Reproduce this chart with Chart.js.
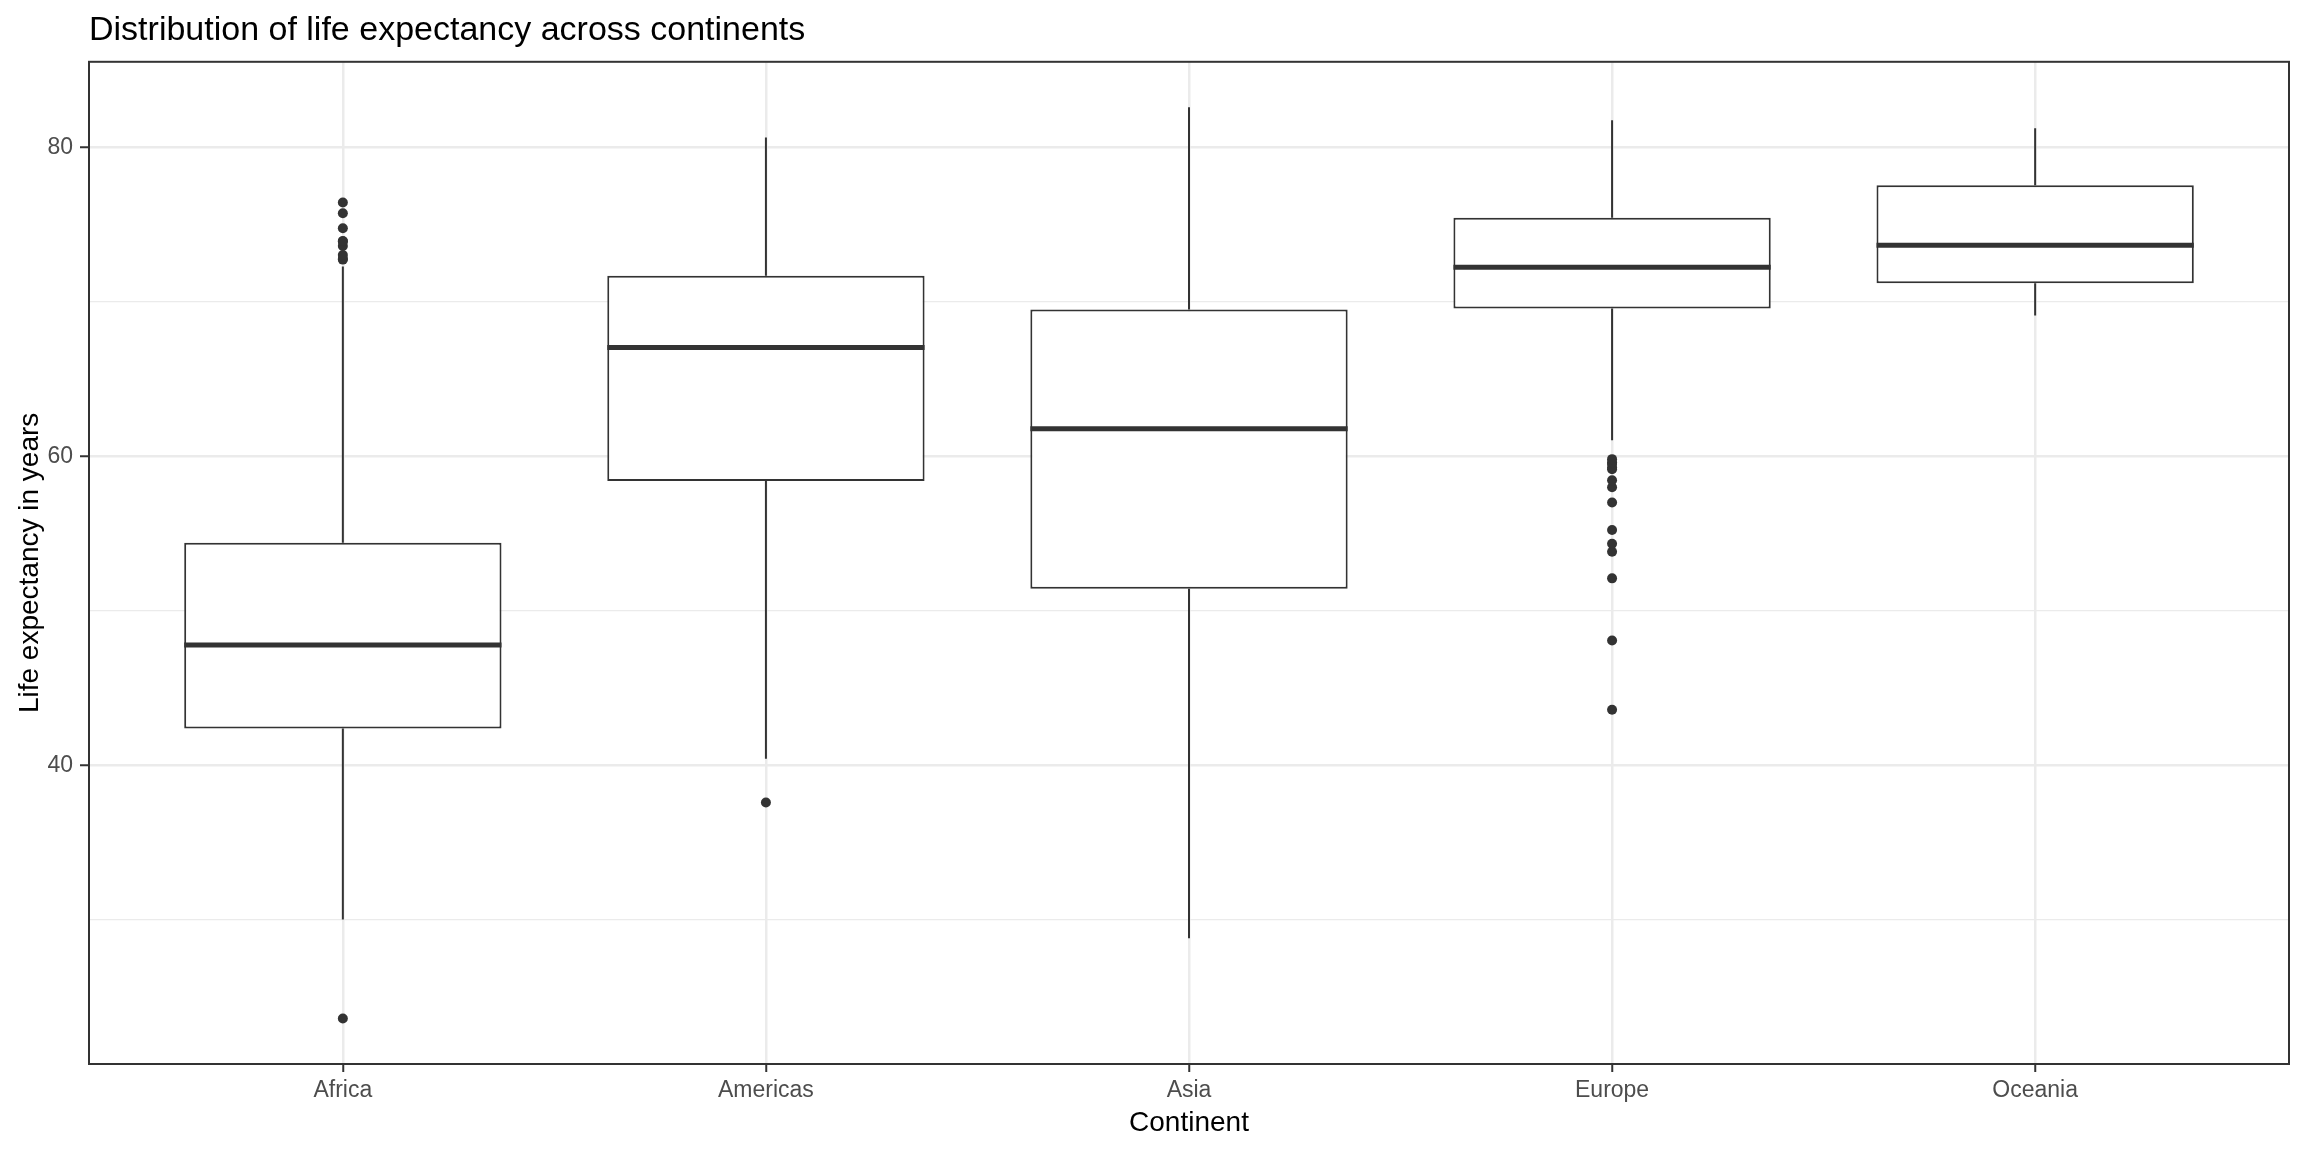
<!DOCTYPE html>
<html>
<head>
<meta charset="utf-8">
<script src="https://cdn.jsdelivr.net/npm/chart.js@4/dist/chart.umd.min.js"></script>
<style>
  html, body { margin: 0; padding: 0; background: #ffffff; }
  #wrap { width: 2304px; height: 1152px; }
</style>
</head>
<body>
<div id="wrap"><canvas id="c" width="2304" height="1152"></canvas></div>
<script>
const TITLE = 'Distribution of life expectancy across continents';
const X_TITLE = 'Continent';
const Y_TITLE = 'Life expectancy in years';
const categories = ['Africa', 'Americas', 'Asia', 'Europe', 'Oceania'];
const lowerWhisker = [30.00, 40.41, 28.80, 61.05, 69.12];
const q1 = [42.37, 58.41, 51.43, 69.57, 71.21];
const median = [47.79, 67.05, 61.79, 72.24, 73.67];
const q3 = [54.41, 71.70, 69.51, 75.45, 77.55];
const upperWhisker = [72.30, 80.65, 82.60, 81.76, 81.24];
const outliersAfrica = [23.60, 72.74, 72.80, 73.04, 73.62, 73.92, 73.95, 74.77, 75.74, 76.44];
const outliersAmericas = [37.58];
const outliersAsia = [];
const outliersEurope = [43.59, 48.08, 52.10, 53.82, 54.34, 55.23, 57.01, 58.00, 58.45, 59.16, 59.28, 59.51, 59.60, 59.82];
const outliersOceania = [];
const yTickValues = [30, 40, 50, 60, 70, 80];
const yLabelValues = [40, 60, 80];
const yMin = 20.65, yMax = 85.55;

const outlierLists = [outliersAfrica, outliersAmericas, outliersAsia, outliersEurope, outliersOceania];
const outlierPoints = [];
outlierLists.forEach((list, i) => list.forEach(v => outlierPoints.push({ x: i, y: v })));

const INK = '#333333';
const FONT = 'Liberation Sans, Arial, sans-serif';

const boxPlugin = {
  id: 'boxParts',
  afterDatasetsDraw(chart) {
    const ctx = chart.ctx;
    const xs = chart.scales.x, ys = chart.scales.y;
    const meta = chart.getDatasetMeta(0);
    ctx.save();
    ctx.strokeStyle = INK;
    ctx.lineCap = 'butt';
    categories.forEach((c, i) => {
      const x = xs.getPixelForValue(i);
      const bar = meta.data[i];
      const half = bar.width / 2;
      ctx.lineWidth = 2;
      ctx.beginPath();
      ctx.moveTo(x, ys.getPixelForValue(q3[i]));
      ctx.lineTo(x, ys.getPixelForValue(upperWhisker[i]));
      ctx.moveTo(x, ys.getPixelForValue(q1[i]));
      ctx.lineTo(x, ys.getPixelForValue(lowerWhisker[i]));
      ctx.stroke();
      ctx.lineWidth = 5;
      ctx.beginPath();
      const my = ys.getPixelForValue(median[i]);
      ctx.moveTo(x - half, my);
      ctx.lineTo(x + half, my);
      ctx.stroke();
    });
    ctx.restore();
  },
  afterDraw(chart) {
    const a = chart.chartArea;
    const ctx = chart.ctx;
    ctx.save();
    ctx.strokeStyle = INK;
    ctx.lineWidth = 2;
    ctx.strokeRect(a.left, a.top, a.right - a.left, a.bottom - a.top);
    ctx.restore();
  }
};

new Chart(document.getElementById('c'), {
  type: 'bar',
  data: {
    datasets: [
      {
        type: 'bar',
        data: categories.map((c, i) => ({ x: i, y: [q1[i], q3[i]] })),
        backgroundColor: '#ffffff',
        borderColor: INK,
        borderWidth: 2,
        borderSkipped: false,
        barPercentage: 0.75,
        categoryPercentage: 1.0,
        order: 2
      },
      {
        type: 'line',
        data: outlierPoints,
        showLine: false,
        pointRadius: 5,
        pointBackgroundColor: INK,
        pointBorderColor: INK,
        pointBorderWidth: 0,
        order: 1
      }
    ]
  },
  options: {
    responsive: false,
    animation: false,
    events: [],
    layout: { padding: { left: 0, right: 15, top: 10, bottom: 0 } },
    plugins: {
      legend: { display: false },
      tooltip: { enabled: false },
      title: {
        display: true,
        text: TITLE,
        align: 'start',
        fullSize: false,
        color: '#000000',
        font: { family: FONT, size: 34, weight: 'normal', lineHeight: 1.2 },
        padding: { top: 0, bottom: 11 }
      }
    },
    scales: {
      x: {
        type: 'linear',
        min: -0.6,
        max: categories.length - 1 + 0.6,
        offset: false,
        afterBuildTicks(scale) { scale.ticks = categories.map((c, i) => ({ value: i })); },
        grid: {
          offset: false,
          color: '#EBEBEB',
          lineWidth: 2.5,
          drawTicks: true,
          tickLength: 8,
          tickColor: INK,
          tickWidth: 2
        },
        border: { display: false },
        ticks: {
          color: '#4D4D4D',
          padding: 5,
          autoSkip: false,
          maxRotation: 0,
          font: { family: FONT, size: 23 },
          callback: (v) => categories[v] !== undefined ? categories[v] : ''
        },
        title: {
          display: true,
          text: X_TITLE,
          color: '#000000',
          font: { family: FONT, size: 28, lineHeight: 1.2 },
          padding: { top: 0, bottom: 12 }
        },
        afterFit(scale) { scale.height = 88; }
      },
      y: {
        type: 'linear',
        min: yMin,
        max: yMax,
        afterBuildTicks(scale) { scale.ticks = yTickValues.map(v => ({ value: v })); },
        grid: {
          color: '#EBEBEB',
          lineWidth: (ctx) => (ctx.tick && yLabelValues.includes(ctx.tick.value)) ? 2.5 : 1.3,
          drawTicks: true,
          tickLength: 9,
          tickColor: (ctx) => (ctx.tick && yLabelValues.includes(ctx.tick.value)) ? INK : 'rgba(0,0,0,0)',
          tickWidth: 2
        },
        border: { display: false },
        ticks: {
          color: '#4D4D4D',
          padding: 7,
          font: { family: FONT, size: 23 },
          callback: (v) => yLabelValues.includes(v) ? String(v) : ''
        },
        title: {
          display: true,
          text: Y_TITLE,
          color: '#000000',
          font: { family: FONT, size: 28, lineHeight: 1.2 },
          padding: { top: 13, bottom: 0 }
        },
        afterFit(scale) { scale.width = 89; }
      }
    }
  },
  plugins: [boxPlugin]
});
</script>
</body>
</html>
